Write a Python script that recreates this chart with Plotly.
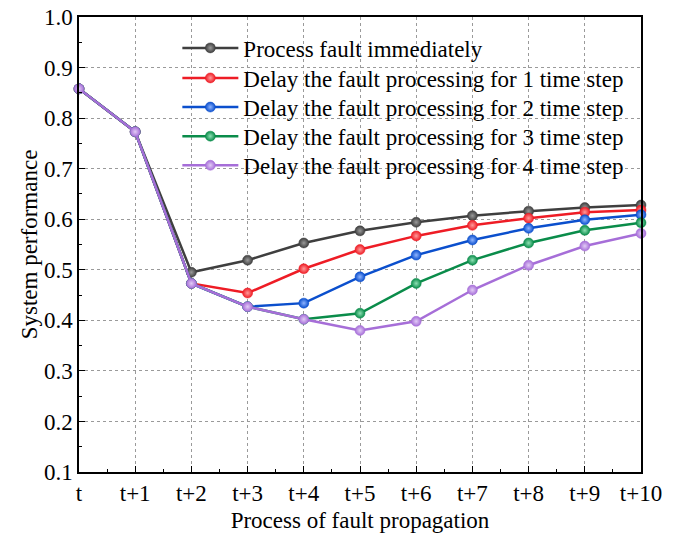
import plotly.graph_objects as go

tick_labels = ["t", "t+1", "t+2", "t+3", "t+4", "t+5", "t+6", "t+7", "t+8", "t+9", "t+10"]
x_pos = list(range(11))

immediate = [0.858, 0.773, 0.495, 0.519, 0.553, 0.577, 0.594, 0.607, 0.616, 0.623, 0.628]
delay1 = [0.858, 0.773, 0.473, 0.454, 0.502, 0.540, 0.567, 0.588, 0.602, 0.614, 0.618]
delay2 = [0.858, 0.773, 0.473, 0.427, 0.434, 0.486, 0.529, 0.559, 0.582, 0.599, 0.609]
delay3 = [0.858, 0.773, 0.473, 0.427, 0.402, 0.414, 0.473, 0.519, 0.553, 0.578, 0.593]
delay4 = [0.858, 0.773, 0.473, 0.427, 0.402, 0.380, 0.398, 0.460, 0.509, 0.547, 0.572]

series_names = [
    "Process fault immediately",
    "Delay the fault processing for 1 time step",
    "Delay the fault processing for 2 time step",
    "Delay the fault processing for 3 time step",
    "Delay the fault processing for 4 time step",
]
series_values = [immediate, delay1, delay2, delay3, delay4]
colors = ["#3f3f3f", "#ee1c25", "#0b4fcd", "#0a8c4a", "#a66ed8"]
highlights = ["#9a9a9a", "#ff9a9a", "#8fb4ff", "#8fe0b4", "#e2ccf6"]
legend_ids = ["legend", "legend2", "legend3", "legend4", "legend5"]
legend_rows_y = [0.932, 0.866, 0.802, 0.738, 0.674]

font_family = "Liberation Serif"

fig = go.Figure()
for name, vals, col, hl, lid in zip(series_names, series_values, colors, highlights, legend_ids):
    fig.add_trace(go.Scatter(
        x=x_pos, y=vals, name=name, mode="lines+markers",
        line=dict(color=col, width=2.5),
        marker=dict(color=col, size=10, symbol="circle",
                    gradient=dict(type="radial", color=hl),
                    line=dict(color=col, width=0.5)),
        cliponaxis=False, legend=lid,
    ))

legend_layout = {}
for lid, ly in zip(legend_ids, legend_rows_y):
    legend_layout[lid] = dict(x=0.175, y=ly, xanchor="left", yanchor="middle",
                              bgcolor="rgba(0,0,0,0)",
                              font=dict(family=font_family, size=23, color="black"),
                              itemwidth=56)

fig.update_layout(
    width=678, height=538,
    margin=dict(l=79, r=37, t=17, b=66),
    paper_bgcolor="white", plot_bgcolor="white",
    font=dict(family=font_family, size=23, color="black"),
    showlegend=True,
    **legend_layout,
)
fig.update_xaxes(
    range=[0, 10], tickvals=x_pos, ticktext=tick_labels, automargin=False,
    tickfont=dict(family=font_family, size=23),
    title=dict(text="Process of fault propagation", standoff=7,
               font=dict(family=font_family, size=23)),
    showline=True, linecolor="black", linewidth=1.5, mirror=True,
    ticks="inside", ticklen=6, tickwidth=1.2, tickcolor="black",
    showgrid=True, gridcolor="#9a9a9a", griddash="dot", gridwidth=1,
    minor=dict(ticks="inside", ticklen=3, tickcolor="black", dtick=0.5, tick0=0, showgrid=False),
    zeroline=False,
)
fig.update_yaxes(
    range=[0.1, 1.0], dtick=0.1, tick0=0.1, tickformat=".1f", automargin=False,
    tickfont=dict(family=font_family, size=23),
    title=dict(text="System performance", standoff=0,
               font=dict(family=font_family, size=23)),
    showline=True, linecolor="black", linewidth=1.5, mirror=True,
    ticks="inside", ticklen=6, tickwidth=1.2, tickcolor="black",
    showgrid=True, gridcolor="#9a9a9a", griddash="dot", gridwidth=1,
    minor=dict(ticks="inside", ticklen=3, tickcolor="black", dtick=0.05, tick0=0.1, showgrid=False),
    zeroline=False,
)

fig.write_html("out.html", config={"displayModeBar": False},
               post_script="document.body.style.margin='0';")
